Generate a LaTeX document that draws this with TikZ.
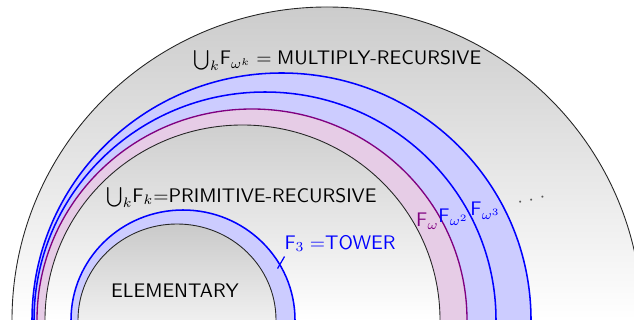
\documentclass[tikz,border=0pt]{standalone}
\definecolor{ringblue}{RGB}{0,0,255}
\definecolor{ringfillblue}{RGB}{204,204,255}
\definecolor{ringpurple}{RGB}{128,0,128}
\definecolor{ringfillpurple}{RGB}{230,204,230}
\definecolor{dotgray}{RGB}{85,85,85}
\begin{document}
\begin{tikzpicture}[x=1pt,y=-1pt,scale=0.509,
  lbl/.style={font=\sffamily, inner sep=0pt, anchor=base},
  blackline/.style={draw=black!85, line width=0.45pt},
  blueline/.style={draw=ringblue, line width=0.78pt},
  purpleline/.style={draw=ringpurple, line width=0.68pt}]
\useasboundingbox (0,0) rectangle (634,320);
\clip (0,0) rectangle (634,320);
% outer region
\begin{scope}
  \clip (327,320) ellipse [x radius=315pt, y radius=313pt];
  \shade[top color=gray!40, bottom color=white] (0,7) rectangle (634,320);
\end{scope}
\draw[blackline] (327,320) ellipse [x radius=315pt, y radius=313pt];
% F_{omega^3}
\fill[ringfillblue] (281.5,320) ellipse [x radius=249.5pt, y radius=247pt];
\draw[blueline] (281.5,320) ellipse [x radius=249.5pt, y radius=247pt];
% F_{omega^2}
\draw[blueline] (265,320) ellipse [x radius=231pt, y radius=228pt];
% F_omega
\fill[ringfillpurple] (252,320) ellipse [x radius=215pt, y radius=211pt];
\draw[purpleline] (252,320) ellipse [x radius=215pt, y radius=211pt];
% primitive recursive
\begin{scope}
  \clip (242.5,320) ellipse [x radius=197.5pt, y radius=195pt];
  \shade[top color=gray!38, bottom color=white] (0,125) rectangle (634,320);
\end{scope}
\draw[blackline] (242.5,320) ellipse [x radius=197.5pt, y radius=195pt];
% F_3 tower
\fill[ringfillblue] (183,320) ellipse [x radius=112pt, y radius=110pt];
\draw[blueline] (183,320) ellipse [x radius=112pt, y radius=110pt];
% elementary
\begin{scope}
  \clip (177,320) ellipse [x radius=99pt, y radius=96pt];
  \shade[top color=gray!42, bottom color=white!94!black] (0,224) rectangle (634,320);
\end{scope}
\draw[blackline] (177,320) ellipse [x radius=99pt, y radius=96pt];
% labels
\node[lbl] (mr) at (337.5,65) {${\bigcup_k}\mathsf{F}_{\omega^k} = {}$MULTIPLY-RECURSIVE};
\node[lbl] (pr) at (241.5,202) {${\bigcup_k}\mathsf{F}_k{=}$PRIMITIVE-RECURSIVE};
\node[lbl, text=ringblue] (tower) at (340,249) {$\mathsf{F}_3 =$TOWER};
\node[lbl] (elem) at (175,297) {ELEMENTARY};
\node[lbl, text=ringpurple] (fw) at (427.5,227) {$\mathsf{F}_\omega$};
\node[lbl, text=ringblue] (fw2) at (453.5,222) {$\mathsf{F}_{\omega^2}$};
\node[lbl, text=ringblue] (fw3) at (485.5,216) {$\mathsf{F}_{\omega^3}$};
\node[lbl, text=dotgray, rotate=12, anchor=center] (dots) at (531.5,200.5) {${\cdot}\mkern5.5mu{\cdot}\mkern5.5mu{\cdot}$};
% tick from ring to tower label
\coordinate (tickA) at (277.5,268.5);
\coordinate (tickB) at (284.5,256.5);
\draw[ringblue, line width=0.62pt] (tickA) -- (tickB);
\end{tikzpicture}
\end{document}
